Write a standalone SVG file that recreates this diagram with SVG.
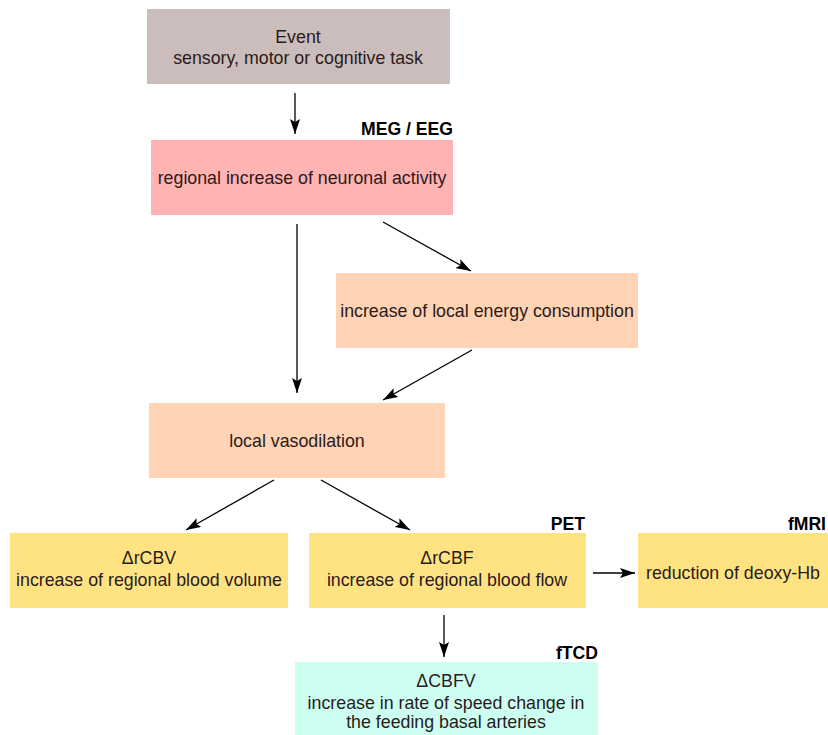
<svg xmlns="http://www.w3.org/2000/svg" width="828" height="735" viewBox="0 0 828 735">
<defs>
<marker id="ah" markerWidth="15" markerHeight="10" refX="15" refY="5" orient="auto" markerUnits="userSpaceOnUse">
<path d="M0,0 L15,5 L0,10 L3,5 Z" fill="#000"/>
</marker>
<style>
.t{font-family:"Liberation Sans",Arial,sans-serif;font-size:17.8px;fill:#2b1a1a;text-anchor:middle}
.lb{font-family:"Liberation Sans",Arial,sans-serif;font-size:17.6px;font-weight:bold;fill:#000;text-anchor:end}
.c line{stroke:#000;stroke-width:1.3;marker-end:url(#ah)}
</style>
</defs>
<rect width="828" height="735" fill="#fff"/>
<g id="event"><rect x="147" y="9" width="303" height="75" fill="#cbbdbb"/>
<text class="t" x="298" y="43">Event</text><text class="t" x="298" y="64">sensory, motor or cognitive task</text></g>
<g id="neuronal"><text class="lb" x="453" y="135">MEG / EEG</text><rect x="151" y="140" width="302" height="75" fill="#ffb3b3"/>
<text class="t" x="302" y="184">regional increase of neuronal activity</text></g>
<g id="energy"><rect x="336" y="273" width="302" height="75" fill="#ffd3b3"/>
<text class="t" x="487" y="317">increase of local energy consumption</text></g>
<g id="vaso"><rect x="149" y="403" width="296" height="75" fill="#ffd3b3"/>
<text class="t" x="297" y="447">local vasodilation</text></g>
<g id="rcbv"><rect x="10" y="533" width="278" height="75" fill="#ffe382"/>
<text class="t" x="149" y="564">ΔrCBV</text><text class="t" x="149" y="586">increase of regional blood volume</text></g>
<g id="rcbf"><text class="lb" x="585" y="530">PET</text><rect x="309" y="533" width="277" height="75" fill="#ffe382"/>
<text class="t" x="447" y="564">ΔrCBF</text><text class="t" x="447" y="586">increase of regional blood flow</text></g>
<g id="deoxy"><text class="lb" x="826" y="530">fMRI</text><rect x="638" y="533" width="190" height="75" fill="#ffe382"/>
<text class="t" x="733" y="579">reduction of deoxy-Hb</text></g>
<g id="ftcd"><text class="lb" x="598" y="659">fTCD</text><rect x="295" y="662" width="303" height="73" fill="#ccfff2"/>
<text class="t" x="446" y="687">ΔCBFV</text><text class="t" x="446" y="709">increase in rate of speed change in</text><text class="t" x="446" y="728">the feeding basal arteries</text></g>
<g class="c" id="connectors">
<line x1="295" y1="93" x2="295" y2="134"/>
<line x1="297" y1="224" x2="297" y2="393"/>
<line x1="383" y1="222" x2="471" y2="271"/>
<line x1="472" y1="350" x2="383" y2="400"/>
<line x1="274" y1="480" x2="186" y2="530"/>
<line x1="321" y1="480" x2="410" y2="530"/>
<line x1="593" y1="573" x2="635" y2="573"/>
<line x1="444" y1="615" x2="444" y2="657"/>
</g>
</svg>
